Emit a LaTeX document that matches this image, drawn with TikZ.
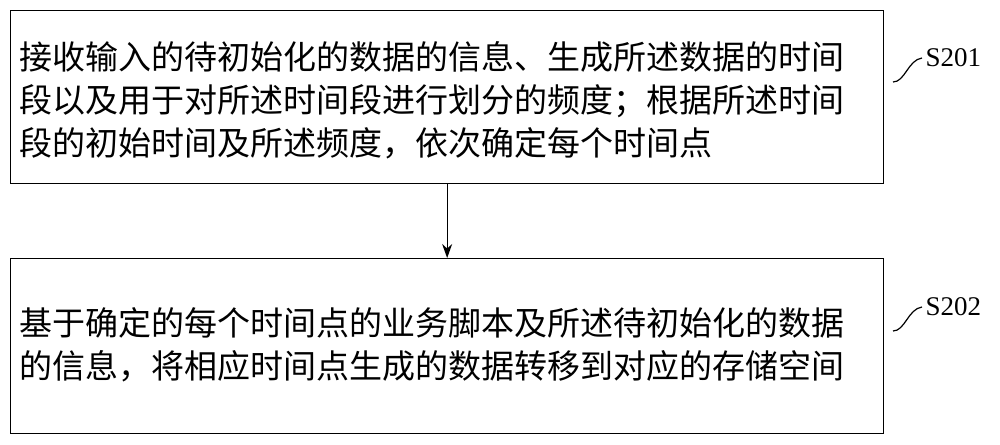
\documentclass[tikz,border=0pt]{standalone}
\usepackage{fontspec}
\usetikzlibrary{arrows.meta}
\newfontfamily\cjk{Noto Sans CJK SC}
\newfontfamily\lab{Liberation Serif}
\begin{document}
\begin{tikzpicture}[x=1pt,y=-1pt,
  stepbox/.style={draw,line width=1.3pt,minimum width=873pt,anchor=north west,inner sep=0pt},
  body/.style={font=\cjk\fontsize{33}{43}\selectfont,align=left,anchor=west},
  lbl/.style={font=\lab\fontsize{27}{30}\selectfont,anchor=west}]
\useasboundingbox (0,0) rectangle (1000,444);
\node[stepbox,minimum height=173pt] (b1) at (10,10) {};
\node[stepbox,minimum height=175pt] (b2) at (10,258) {};
\node[body] (t1) at (16,100) {接收输入的待初始化的数据的信息、生成所述数据的时间\\段以及用于对所述时间段进行划分的频度；根据所述时间\\段的初始时间及所述频度，依次确定每个时间点};
\node[body] (t2) at (16,345) {基于确定的每个时间点的业务脚本及所述待初始化的数据\\的信息，将相应时间点生成的数据转移到对应的存储空间};
\draw[line width=1.3pt,-{Stealth[length=14pt,width=10pt]}] (b1.south) -- (b2.north);
\node[lbl] (s1) at (922,58) {S201};
\node[lbl] (s2) at (922,307) {S202};
\draw[line width=1.2pt] (893,82) .. controls (905,82) and (908,60) .. (s1.west);
\draw[line width=1.2pt] (893,331) .. controls (905,331) and (908,309) .. (s2.west);
\end{tikzpicture}
\end{document}
